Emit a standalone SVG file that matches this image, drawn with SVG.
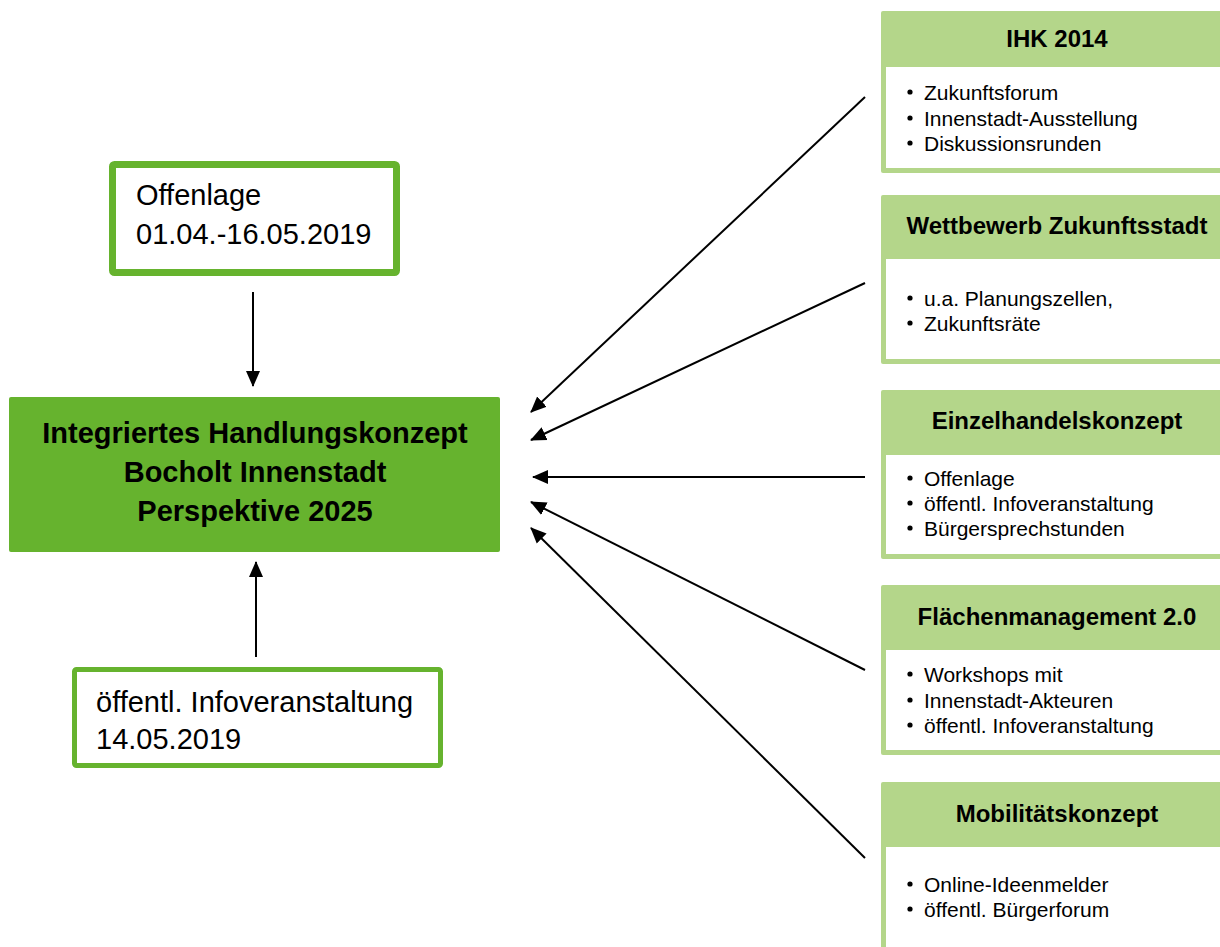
<svg xmlns="http://www.w3.org/2000/svg" width="1220" height="947" viewBox="0 0 1220 947">
<style>
.hd{fill:#b4d68a}
.body{fill:#ffffff}
.t{font-family:"Liberation Sans",Arial,sans-serif;fill:#000}
.h{font-size:24px;font-weight:bold;text-anchor:middle}
.b{font-size:21px}
.big{font-size:29px}
.mt{font-size:29px;font-weight:bold;text-anchor:middle}
.dot{fill:#000}
</style>
<defs>
<marker id="ah2" markerWidth="16" markerHeight="16" refX="15" refY="8" orient="auto" markerUnits="userSpaceOnUse">
<path d="M0,1 L16,8 L0,15 Z" fill="#000"/>
</marker>
</defs>
<rect width="1220" height="947" fill="#fff"/>

<g id="main">
<rect x="9" y="397" width="491" height="155" rx="2" fill="#66b32e"/>
<text class="t mt" x="255" y="443">Integriertes Handlungskonzept</text>
<text class="t mt" x="255" y="482">Bocholt Innenstadt</text>
<text class="t mt" x="255" y="521">Perspektive 2025</text>
</g>

<g id="offenlage">
<rect x="112.5" y="164.5" width="284" height="108" rx="2" fill="#fff" stroke="#66b32e" stroke-width="7"/>
<text class="t big" x="136" y="205">Offenlage</text>
<text class="t big" x="136" y="244">01.04.-16.05.2019</text>
</g>

<g id="infoveranstaltung">
<rect x="74.5" y="669.5" width="366" height="96" rx="2" fill="#fff" stroke="#66b32e" stroke-width="5"/>
<text class="t big" x="96" y="712">öffentl. Infoveranstaltung</text>
<text class="t big" x="96" y="749">14.05.2019</text>
</g>

<g id="ihk">
<rect x="881" y="11" width="345" height="162" rx="2" class="hd"/>
<rect x="886" y="67" width="340" height="101" class="body"/>
<text class="t h" x="1057" y="47">IHK 2014</text>
<circle class="dot" cx="910" cy="92" r="2.6"/><text class="t b" x="924" y="100">Zukunftsforum</text>
<circle class="dot" cx="910" cy="118" r="2.6"/><text class="t b" x="924" y="126">Innenstadt-Ausstellung</text>
<circle class="dot" cx="910" cy="143" r="2.6"/><text class="t b" x="924" y="151">Diskussionsrunden</text>
</g>

<g id="wettbewerb">
<rect x="881" y="195" width="345" height="169" rx="2" class="hd"/>
<rect x="886" y="259" width="340" height="100" class="body"/>
<text class="t h" x="1057" y="234">Wettbewerb Zukunftsstadt</text>
<circle class="dot" cx="910" cy="298" r="2.6"/><text class="t b" x="924" y="306">u.a. Planungszellen,</text>
<circle class="dot" cx="910" cy="323" r="2.6"/><text class="t b" x="924" y="331">Zukunftsräte</text>
</g>

<g id="einzelhandel">
<rect x="881" y="390" width="345" height="169" rx="2" class="hd"/>
<rect x="886" y="455" width="340" height="99" class="body"/>
<text class="t h" x="1057" y="429">Einzelhandelskonzept</text>
<circle class="dot" cx="910" cy="478" r="2.6"/><text class="t b" x="924" y="486">Offenlage</text>
<circle class="dot" cx="910" cy="503" r="2.6"/><text class="t b" x="924" y="511">öffentl. Infoveranstaltung</text>
<circle class="dot" cx="910" cy="528" r="2.6"/><text class="t b" x="924" y="536">Bürgersprechstunden</text>
</g>

<g id="flaechen">
<rect x="881" y="585" width="345" height="170" rx="2" class="hd"/>
<rect x="886" y="650" width="340" height="100" class="body"/>
<text class="t h" x="1057" y="625">Flächenmanagement 2.0</text>
<circle class="dot" cx="910" cy="674" r="2.6"/><text class="t b" x="924" y="682">Workshops mit</text>
<circle class="dot" cx="910" cy="700" r="2.6"/><text class="t b" x="924" y="708">Innenstadt-Akteuren</text>
<circle class="dot" cx="910" cy="725" r="2.6"/><text class="t b" x="924" y="733">öffentl. Infoveranstaltung</text>
</g>

<g id="mobilitaet">
<rect x="881" y="782" width="345" height="175" rx="2" class="hd"/>
<rect x="886" y="847" width="340" height="110" class="body"/>
<text class="t h" x="1057" y="822">Mobilitätskonzept</text>
<circle class="dot" cx="910" cy="884" r="2.6"/><text class="t b" x="924" y="892">Online-Ideenmelder</text>
<circle class="dot" cx="910" cy="909" r="2.6"/><text class="t b" x="924" y="917">öffentl. Bürgerforum</text>
</g>

<g id="connectors" stroke="#000" stroke-width="2" fill="none">
<line x1="253" y1="292" x2="253" y2="386" marker-end="url(#ah2)"/>
<line x1="256" y1="657" x2="256" y2="562" marker-end="url(#ah2)"/>
<line x1="865" y1="97" x2="531" y2="412" marker-end="url(#ah2)"/>
<line x1="865" y1="283" x2="531" y2="440" marker-end="url(#ah2)"/>
<line x1="865" y1="477" x2="533" y2="477" marker-end="url(#ah2)"/>
<line x1="865" y1="670" x2="531" y2="502" marker-end="url(#ah2)"/>
<line x1="865" y1="858" x2="531" y2="528" marker-end="url(#ah2)"/>
</g>
</svg>
